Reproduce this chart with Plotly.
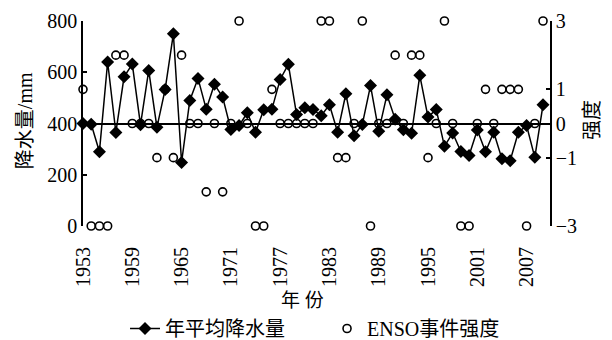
import plotly.graph_objects as go

years = list(range(1953, 2010))
precip = [400, 397, 290, 640, 365, 582, 632, 395, 607, 385,
          533, 750, 248, 490, 576, 456, 553, 503, 377, 392,
          442, 366, 454, 456, 572, 631, 435, 461, 455, 430,
          473, 366, 516, 352, 396, 548, 370, 512, 417, 376,
          362, 588, 425, 455, 311, 363, 291, 275, 375, 290,
          366, 262, 255, 366, 392, 268, 473]
enso = [1, -3, -3, -3, 2, 2, 0, 0, 0, -1,
        1, -1, 2, 0, 0, -2, 0, -2, 0, 3,
        0, -3, -3, 1, 0, 0, 0, 0, 0, 3,
        3, -1, -1, 0, 3, -3, 0, 0, 2, 0,
        2, 2, -1, 0, 3, 0, -3, -3, 0, 1,
        0, 1, 1, 1, -3, 0, 3]
x_ticks = list(range(1953, 2008, 6))
left_ticks = [0, 200, 400, 600, 800]
right_ticks = [-3, -1, 0, 1, 3]

SERIF = "Liberation Serif, Noto Sans CJK SC"
tf = dict(family=SERIF, size=20, color="black")

fig = go.Figure()
fig.add_trace(go.Scatter(
    x=years, y=precip, name="年平均降水量", mode="lines+markers",
    line=dict(color="black", width=1.5),
    marker=dict(symbol="diamond", size=10, color="black"),
    cliponaxis=False, yaxis="y"))
fig.add_trace(go.Scatter(
    x=years, y=enso, name="ENSO事件强度", mode="markers",
    marker=dict(symbol="circle-open", size=8, color="black", line=dict(width=1.6)),
    cliponaxis=False, yaxis="y2"))

fig.update_layout(
    width=612, height=340,
    margin=dict(l=83, r=62, t=21, b=114, autoexpand=False),
    paper_bgcolor="white", plot_bgcolor="white",
    font=dict(family=SERIF, size=20, color="black"),
    showlegend=True,
    xaxis=dict(range=[1953, 2009.85], tickvals=x_ticks, ticktext=[str(v) for v in x_ticks],
               tickangle=-90, showline=False, showgrid=False, zeroline=False,
               ticks="", ticklabelstandoff=16, tickfont=tf, automargin=False),
    yaxis=dict(range=[0, 800], tickvals=left_ticks, showline=True, linecolor="black",
               linewidth=1.5, ticks="inside", ticklen=4, tickwidth=1.5, tickcolor="black",
               showgrid=False, zeroline=False, tickfont=tf, automargin=False),
    yaxis2=dict(range=[-3, 3], tickvals=right_ticks, overlaying="y", side="right",
                showline=True, linecolor="black", linewidth=1.5, ticks="inside",
                ticklen=4, tickwidth=1.5, tickcolor="black", showgrid=False,
                zeroline=True, zerolinecolor="black", zerolinewidth=1.5,
                tickfont=tf, automargin=False),
    legend=dict(orientation="h", x=0.09, y=-0.5, xanchor="left", yanchor="middle",
                font=dict(family=SERIF, size=20, color="black"),
                entrywidth=157, entrywidthmode="pixels",
                bgcolor="rgba(0,0,0,0)"),
    annotations=[
        dict(text="降水量/mm", x=-0.124, y=0.512, xref="paper", yref="paper",
             xanchor="center", yanchor="middle",
             showarrow=False, textangle=-90, font=dict(family=SERIF, size=20)),
        dict(text="强度", x=1.09, y=0.517, xref="paper", yref="paper",
             xanchor="center", yanchor="middle",
             showarrow=False, textangle=-90, font=dict(family=SERIF, size=20)),
        dict(text="年 份", x=0.471, y=-0.361, xref="paper", yref="paper",
             xanchor="center", yanchor="middle",
             showarrow=False, font=dict(family=SERIF, size=19)),
    ],
)

fig.write_html("out.html", config={"displayModeBar": False},
               post_script="document.body.style.margin='0';")
